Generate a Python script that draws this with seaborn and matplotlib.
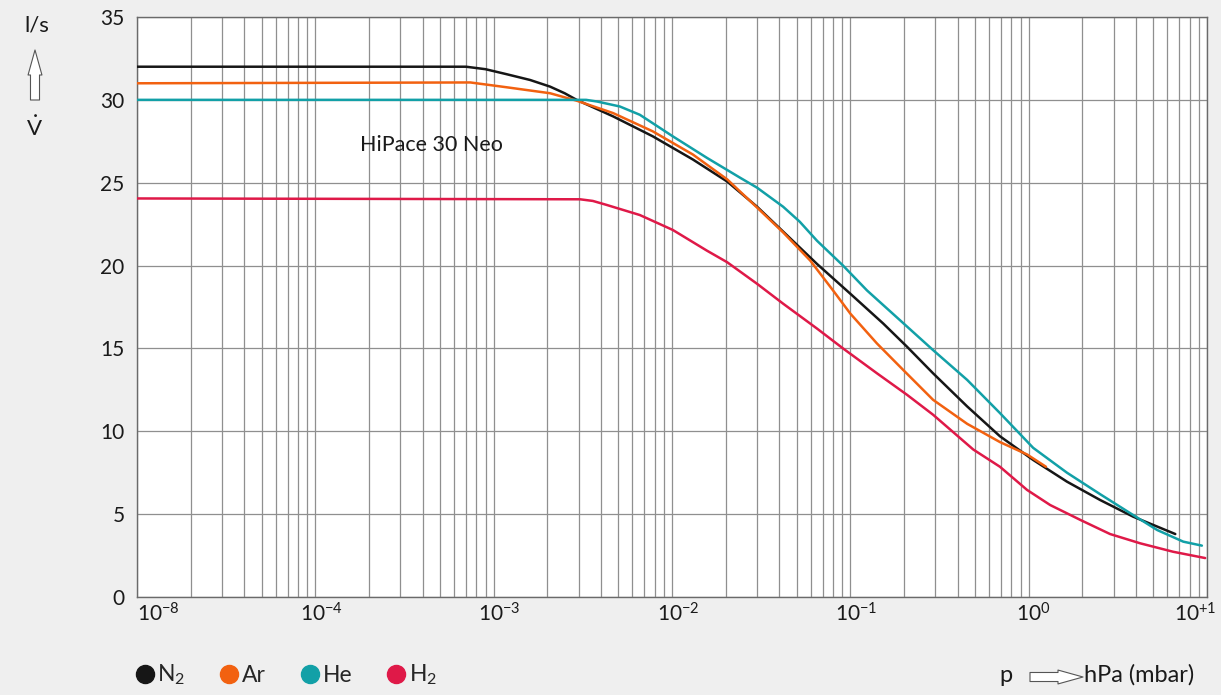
import numpy as np
import pandas as pd
import matplotlib
matplotlib.use('Agg')
import matplotlib.pyplot as plt
import matplotlib.transforms as mtransforms
from matplotlib.lines import Line2D
from matplotlib.ticker import FixedLocator
import seaborn as sns

# Saugvermoegen (l/s) ueber Druck (hPa)
p_n2 = [1e-8, 7.0e-4, 9.0e-4, 1.18e-3, 1.6e-3, 2.07e-3, 2.5e-3, 2.92e-3, 4.68e-3, 7.8e-3, 1.31e-2,
        2.04e-2, 3.0e-2, 4.2e-2, 6.5e-2, 0.1, 0.153, 0.208, 0.291, 0.452, 0.69, 1.06, 1.64, 2.52,
        3.85, 6.64]
s_n2 = [32.0, 32.0, 31.85, 31.55, 31.2, 30.8, 30.4, 30.0, 29.0, 27.8, 26.4,
        25.07, 23.55, 22.05, 20.1, 18.3, 16.5, 15.1, 13.5, 11.5, 9.7, 8.27, 6.96, 5.85,
        4.85, 3.8]

p_ar = [1e-8, 7.4e-4, 1.2e-3, 2.07e-3, 2.92e-3, 4.68e-3, 7.8e-3, 1.31e-2, 2.04e-2, 3.0e-2, 4.2e-2,
        5.96e-2, 8.0e-2, 0.1, 0.141, 0.198, 0.291, 0.452, 0.69, 0.98, 1.25]
s_ar = [31.0, 31.05, 30.75, 30.4, 29.95, 29.2, 28.1, 26.7, 25.2, 23.5, 22.0,
        20.3, 18.5, 17.1, 15.3, 13.7, 11.9, 10.45, 9.35, 8.6, 7.86]

p_he = [1e-8, 3.3e-3, 3.8e-3, 5.1e-3, 6.6e-3, 1.01e-2, 1.57e-2, 2.41e-2, 3.0e-2, 4.2e-2, 5.2e-2,
        6.5e-2, 9.1e-2, 0.124, 0.19, 0.291, 0.452, 0.69, 1.06, 1.64, 2.52, 3.85, 5.26, 7.36, 9.36]
s_he = [30.0, 30.0, 29.9, 29.6, 29.1, 27.8, 26.5, 25.3, 24.7, 23.55, 22.65,
        21.5, 20.0, 18.5, 16.7, 14.9, 13.1, 11.1, 9.0, 7.5, 6.2, 4.95, 4.04, 3.34, 3.1]

p_h2 = [1e-8, 3.05e-3, 3.6e-3, 4.3e-3, 6.6e-3, 1.01e-2, 1.57e-2, 2.04e-2, 3.0e-2, 4.2e-2, 6.5e-2,
        9.1e-2, 0.141, 0.208, 0.291, 0.489, 0.69, 0.98, 1.32, 1.95, 2.86, 4.22, 6.46, 9.77]
s_h2 = [24.05, 24.0, 23.9, 23.66, 23.05, 22.15, 20.9, 20.2, 18.9, 17.7, 16.2,
        15.0, 13.5, 12.2, 11.0, 8.9, 7.86, 6.46, 5.55, 4.65, 3.8, 3.24, 2.73, 2.35]

gases = ['N$_2$', 'Ar', 'He', 'H$_2$']
farben = ['#161616', '#f26110', '#12a0a7', '#df1948']

x_ticks = [1e-8, 1e-4, 1e-3, 1e-2, 1e-1, 1, 10]
x_labels = ['$10^{-8}$', '$10^{-4}$', '$10^{-3}$', '$10^{-2}$', '$10^{-1}$', '$10^{0}$', '$10^{+1}$']
y_ticks = [0, 5, 10, 15, 20, 25, 30, 35]

df = pd.concat([
    pd.DataFrame({'p': p, 'S': s, 'gas': g})
    for p, s, g in zip([p_n2, p_ar, p_he, p_h2], [s_n2, s_ar, s_he, s_h2], gases)
])

sns.set_style('white')
plt.rcParams['font.family'] = ['Lato', 'DejaVu Sans']
plt.rcParams['mathtext.fontset'] = 'custom'
plt.rcParams['mathtext.rm'] = 'Lato'
plt.rcParams['mathtext.it'] = 'Lato:italic'
plt.rcParams['mathtext.bf'] = 'Lato:bold'
plt.rcParams['mathtext.default'] = 'regular'

W, H = 1221, 695
fig = plt.figure(figsize=(W / 100, H / 100), dpi=100, facecolor='#efefef')
ax = fig.add_axes([137 / W, 98 / H, 1070 / W, 580 / H])
ax.set_facecolor('white')


# Achse: 10^-8 .. 10^-4 auf eine Dekade gestaucht, danach normal logarithmisch
def vor(x):
    with np.errstate(divide='ignore', invalid='ignore'):
        lx = np.log10(np.clip(np.asarray(x, dtype=float), 1e-300, None))
    return np.where(lx >= -4, lx, -4 + (lx + 4) / 4)


def zurueck(y):
    y = np.asarray(y, dtype=float)
    with np.errstate(over='ignore'):
        return np.where(y >= -4, 10.0 ** y, 10.0 ** (-4 + (y + 4) * 4))


ax.set_xscale('function', functions=(vor, zurueck))

sns.lineplot(data=df, x='p', y='S', hue='gas', palette=dict(zip(gases, farben)),
             estimator=None, linewidth=1.8, legend=False, ax=ax, zorder=3)

ax.set_xlim(1e-8, 10)
ax.set_ylim(0, 35)

minor = [10 ** (-8 + 4 * np.log10(k)) for k in range(2, 10)]
minor += [k * 10.0 ** e for e in range(-4, 1) for k in range(2, 10)]
ax.xaxis.set_major_locator(FixedLocator(x_ticks))
ax.xaxis.set_minor_locator(FixedLocator(minor))
ax.set_xticklabels(x_labels)
ax.set_yticks(y_ticks)

ax.grid(which='both', axis='x', color='#8f8f8f', linewidth=0.9)
ax.grid(which='major', axis='y', color='#8f8f8f', linewidth=0.9)
for sp in ax.spines.values():
    sp.set_color('#6a6a6a')
    sp.set_linewidth(1.0)

ax.tick_params(axis='both', which='both', length=0, labelsize=15, colors='#1a1a1a')
ax.tick_params(axis='x', pad=4)
ax.tick_params(axis='y', pad=9)

# Beschriftungen wie im Original leicht versetzt
versatz = [0, 6, 6, 6, 6, 5, -12]
for lab, dx in zip(ax.get_xticklabels(), versatz):
    lab.set_transform(lab.get_transform() + mtransforms.ScaledTranslation(dx / 100, 0, fig.dpi_scale_trans))
ax.get_xticklabels()[0].set_ha('left')

ax.set_xlabel('')
ax.set_ylabel('')

ax.text(0.208, 0.779, 'HiPace 30 Neo', transform=ax.transAxes, ha='left', va='center',
        fontsize=15.5, color='#1a1a1a')

# Einheit und Achsbezeichnung links
fig.text(37 / W, 1 - 25 / H, 'l/s', ha='center', va='center', fontsize=16, color='#1a1a1a')
fig.text(35 / W, 1 - 128 / H, r'$\dot{V}$', ha='center', va='center', fontsize=16, color='#1a1a1a')
pfeil = dict(arrowstyle='simple,head_length=1.8,head_width=1.0,tail_width=0.65',
             fc='white', ec='#555555', lw=0.8, mutation_scale=10, shrinkA=0, shrinkB=0)
ax.annotate('', xy=(35, H - 50), xytext=(35, H - 100), xycoords='figure pixels',
            textcoords='figure pixels', arrowprops=pfeil, annotation_clip=False)

# Druckachse unten rechts
fig.text(1006 / W, 1 - 675 / H, 'p', ha='center', va='center', fontsize=17, color='#1a1a1a')
ax.annotate('', xy=(1083, H - 677), xytext=(1030, H - 677), xycoords='figure pixels',
            textcoords='figure pixels', arrowprops=pfeil, annotation_clip=False)
fig.text(1084 / W, 1 - 675 / H, 'hPa (mbar)', ha='left', va='center', fontsize=17, color='#1a1a1a')

# Legende
griffe = [Line2D([], [], marker='o', ls='', ms=13, color=c) for c in farben]
fig.legend(griffe, gases, loc='center left', bbox_to_anchor=(135 / W, 1 - 675 / H), ncol=4,
           frameon=False, handletextpad=0.12, columnspacing=1.5, handlelength=0.85,
           borderaxespad=0, borderpad=0, fontsize=16.5)

fig.savefig('out.png', dpi=100, facecolor=fig.get_facecolor())
